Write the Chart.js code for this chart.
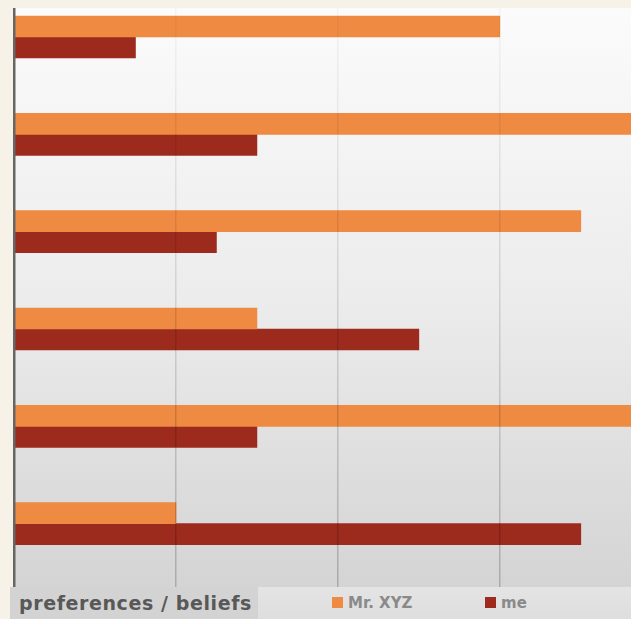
<!DOCTYPE html>
<html>
<head>
<meta charset="utf-8">
<script src="https://cdn.jsdelivr.net/npm/chart.js@4.4.0/dist/chart.umd.min.js"></script>
<style>
  html, body { margin: 0; padding: 0; background: #f6f2e7; }
  #wrap { position: relative; width: 631px; height: 619px; overflow: hidden; }
  #chart-box { position: absolute; left: 0; top: 0; width: 631px; height: 588px; }
  #strip {
    position: absolute; left: 10px; top: 587px; width: 621px; height: 32px;
    background: linear-gradient(#e4e4e4, #dedede);
    font-family: "DejaVu Sans", sans-serif;
  }
  #strip-title {
    position: absolute; left: 0; top: 0; width: 248px; height: 32px;
    background: #d3d3d3; color: #585858; font-weight: bold; font-size: 19px;
    line-height: 32px; padding-left: 9px; box-sizing: border-box; letter-spacing: 0.6px;
  }
  .key { position: absolute; top: 0; height: 32px; line-height: 32px; font-size: 15px; color: #8a8a8a; font-weight: bold; }
  .key span { display: inline-block; width: 11px; height: 11px; margin-right: 5px; vertical-align: 0px; }
</style>
</head>
<body>
<div id="wrap">
  <div id="chart-box"><canvas id="barChart"></canvas></div>
  <div id="strip">
    <div id="strip-title">preferences / beliefs</div>
    <div class="key" style="left:322px"><span style="background:#ee8a42"></span>Mr. XYZ</div>
    <div class="key" style="left:475px"><span style="background:#9c2a1d"></span>me</div>
  </div>
</div>
<script>
const categories = ['1', '2', '3', '4', '5', '6'];
const mrXyz = [3, 4, 3.5, 1.5, 4, 1];
const me = [0.75, 1.5, 1.25, 2.5, 1.5, 3.5];
const xTicks = [0, 1, 2, 3];

// plot background: light at the top, grey toward the bottom
const plotBackground = {
    id: 'plotBackground',
    beforeDraw(chart) {
        const { ctx, chartArea: a } = chart;
        const g = ctx.createLinearGradient(0, a.top, 0, a.bottom);
        g.addColorStop(0, '#fbfbfb');
        g.addColorStop(0.5, '#ececec');
        g.addColorStop(1, '#d4d4d4');
        ctx.save();
        ctx.fillStyle = g;
        ctx.fillRect(a.left, a.top, a.right - a.left, a.bottom - a.top);
        ctx.restore();
    }
};

function gridColor(context) {
    const chart = context.chart;
    const a = chart.chartArea;
    if (!a) return 'rgba(0,0,0,0.1)';
    if (context.tick && context.tick.value === 0) return '#666666';
    const g = chart.ctx.createLinearGradient(0, a.top, 0, a.bottom);
    g.addColorStop(0, 'rgba(0,0,0,0.03)');
    g.addColorStop(1, 'rgba(0,0,0,0.2)');
    return g;
}

const ctx = document.getElementById('barChart').getContext('2d');
const myChart = new Chart(ctx, {
    type: 'bar',
    data: {
        datasets: [{
            label: 'Mr. XYZ',
            data: categories.map((c, i) => ({ x: mrXyz[i], y: i })),
            backgroundColor: '#ee8a42'
        }, {
            label: 'me',
            data: categories.map((c, i) => ({ x: me[i], y: i })),
            backgroundColor: '#9c2a1d'
        }]
    },
    options: {
        indexAxis: 'y',
        responsive: true,
        maintainAspectRatio: false,
        animation: false,
        layout: { padding: { left: 14, top: 8, right: 0, bottom: 0 } },
        datasets: {
            bar: { barThickness: 21 }
        },
        scales: {
            x: {
                type: 'linear',
                min: 0,
                max: 3.81,
                afterBuildTicks: (scale) => { scale.ticks = xTicks.map(v => ({ value: v })); },
                ticks: { display: false },
                border: { display: false },
                grid: {
                    z: 1,
                    drawTicks: false,
                    color: gridColor,
                    lineWidth: (c) => (c.tick && c.tick.value === 0 ? 2.5 : 1.5)
                }
            },
            y: {
                type: 'linear',
                reverse: true,
                offset: false,
                min: -0.298,
                max: 5.661,
                display: false
            }
        },
        plugins: {
            legend: { display: false },
            tooltip: { enabled: false }
        }
    },
    plugins: [plotBackground]
});
</script>
</body>
</html>
